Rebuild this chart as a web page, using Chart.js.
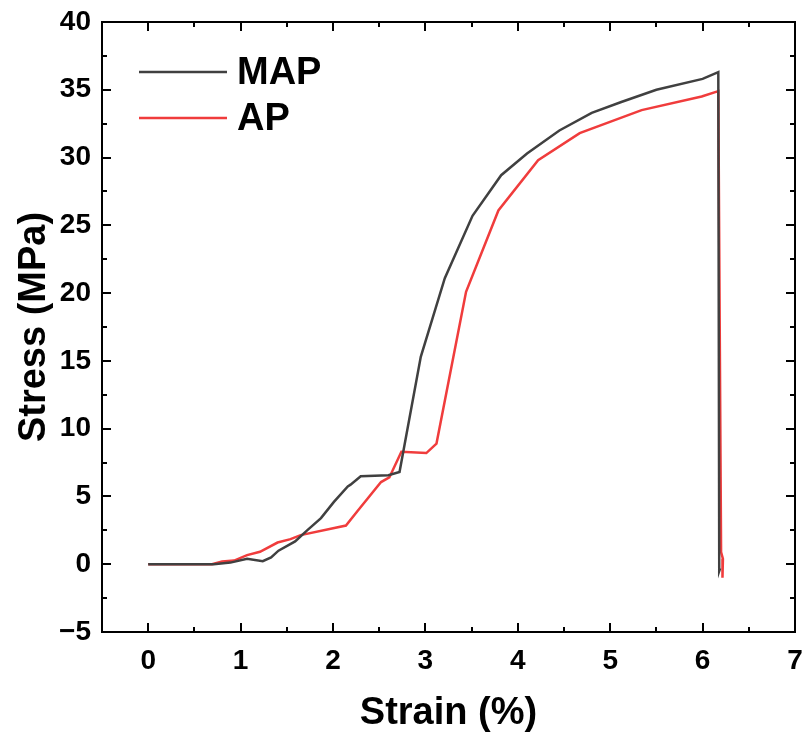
<!DOCTYPE html>
<html>
<head>
<meta charset="utf-8">
<script src="https://cdn.jsdelivr.net/npm/chart.js@4/dist/chart.umd.min.js"></script>
<style>
  html, body { margin: 0; padding: 0; background: #fff; }
  #wrap { width: 806px; height: 738px; }
</style>
</head>
<body>
<div id="wrap"><canvas id="chart" width="806" height="738"></canvas></div>
<script>
// data
var mapStrain = [0, 0.71, 0.89, 1.07, 1.24, 1.33, 1.41, 1.59, 1.72, 1.87, 2.01, 2.16, 2.19, 2.30, 2.60, 2.72, 2.95, 3.21, 3.51, 3.82, 4.10, 4.45, 4.80, 5.12, 5.50, 6.00, 6.17, 6.18, 6.19];
var mapStress = [0, 0, 0.12, 0.40, 0.22, 0.50, 1.00, 1.68, 2.50, 3.40, 4.60, 5.74, 5.87, 6.49, 6.56, 6.80, 15.3, 21.1, 25.7, 28.7, 30.3, 32.0, 33.3, 34.1, 35.0, 35.8, 36.3, -0.5, -0.3];

var apStrain = [0, 0.69, 0.80, 0.93, 1.07, 1.21, 1.40, 1.54, 1.65, 2.14, 2.27, 2.52, 2.61, 2.74, 3.01, 3.12, 3.44, 3.79, 4.22, 4.67, 5.34, 5.99, 6.17, 6.20, 6.22, 6.22, 6.21];
var apStress = [0, 0, 0.20, 0.27, 0.67, 0.92, 1.60, 1.85, 2.15, 2.85, 3.96, 6.06, 6.40, 8.30, 8.20, 8.90, 20.1, 26.1, 29.8, 31.8, 33.5, 34.5, 34.9, 0.9, 0.4, -0.4, -1.0];

var xTicks = [0, 1, 2, 3, 4, 5, 6, 7];
var xMinorTicks = [-0.5, 0.5, 1.5, 2.5, 3.5, 4.5, 5.5, 6.5];
var yTicks = [-5, 0, 5, 10, 15, 20, 25, 30, 35, 40];
var yMinorTicks = [-2.5, 2.5, 7.5, 12.5, 17.5, 22.5, 27.5, 32.5, 37.5];

function toPoints(xs, ys) {
    return xs.map(function (x, i) { return { x: x, y: ys[i] }; });
}

var FONT = '"Liberation Sans", Arial, sans-serif';

// box frame, inward ticks on all four sides, and the legend inside the plot
var framePlugin = {
    id: 'frame',
    afterDraw: function (chart) {
        var ctx = chart.ctx;
        var a = chart.chartArea;
        var xs = chart.scales.x, ys = chart.scales.y;
        ctx.save();
        ctx.strokeStyle = '#000';
        ctx.lineWidth = 2;
        ctx.strokeRect(a.left, a.top, a.right - a.left, a.bottom - a.top);
        ctx.beginPath();
        function xt(list, len) {
            list.forEach(function (v) {
                var p = Math.round(xs.getPixelForValue(v));
                ctx.moveTo(p, a.bottom); ctx.lineTo(p, a.bottom - len);
                ctx.moveTo(p, a.top); ctx.lineTo(p, a.top + len);
            });
        }
        function yt(list, len) {
            list.forEach(function (v) {
                var p = Math.round(ys.getPixelForValue(v));
                ctx.moveTo(a.left, p); ctx.lineTo(a.left + len, p);
                ctx.moveTo(a.right, p); ctx.lineTo(a.right - len, p);
            });
        }
        xt(xTicks, 9); xt(xMinorTicks, 5);
        yt(yTicks, 9); yt(yMinorTicks, 5);
        ctx.stroke();

        // legend
        ctx.font = 'bold 38px ' + FONT;
        ctx.textBaseline = 'middle';
        chart.data.datasets.forEach(function (ds, i) {
            var y = a.top + 50 + i * 46;
            ctx.strokeStyle = ds.borderColor;
            ctx.lineWidth = 2.5;
            ctx.beginPath();
            ctx.moveTo(a.left + 37, y);
            ctx.lineTo(a.left + 125, y);
            ctx.stroke();
            ctx.fillStyle = '#000';
            ctx.fillText(ds.label, a.left + 135, y + 2);
        });
        ctx.restore();
    }
};

new Chart(document.getElementById('chart').getContext('2d'), {
    type: 'scatter',
    data: {
        datasets: [{
            label: 'MAP',
            data: toPoints(mapStrain, mapStress),
            showLine: true,
            borderColor: '#404040',
            borderWidth: 2.5,
            pointRadius: 0,
            tension: 0
        }, {
            label: 'AP',
            data: toPoints(apStrain, apStress),
            showLine: true,
            borderColor: '#f03c3c',
            borderWidth: 2.5,
            pointRadius: 0,
            tension: 0
        }]
    },
    options: {
        responsive: false,
        animation: false,
        layout: { padding: { top: 22, right: 11, left: 4, bottom: 0 } },
        plugins: {
            legend: { display: false },
            tooltip: { enabled: false }
        },
        scales: {
            x: {
                type: 'linear',
                min: -0.5,
                max: 7,
                afterBuildTicks: function (s) { s.ticks = xTicks.map(function (v) { return { value: v }; }); },
                afterFit: function (s) { s.height = 106; s.paddingLeft = 0; s.paddingRight = 0; },
                grid: { display: false, drawTicks: false },
                border: { display: false },
                ticks: {
                    color: '#000',
                    padding: 12,
                    font: { family: FONT, size: 28, weight: 'bold' }
                },
                title: {
                    display: true,
                    text: 'Strain (%)',
                    color: '#000',
                    padding: { top: 17, bottom: 2 },
                    font: { family: FONT, size: 38, weight: 'bold' }
                }
            },
            y: {
                type: 'linear',
                min: -5,
                max: 40,
                afterBuildTicks: function (s) { s.ticks = yTicks.map(function (v) { return { value: v }; }); },
                afterFit: function (s) { s.width = 98; s.paddingTop = 0; s.paddingBottom = 0; },
                grid: { display: false, drawTicks: false },
                border: { display: false },
                ticks: {
                    color: '#000',
                    padding: 11,
                    font: { family: FONT, size: 28, weight: 'bold' },
                    callback: function (v) { return v < 0 ? '\u2212' + Math.abs(v) : v; }
                },
                title: {
                    display: true,
                    text: 'Stress (MPa)',
                    color: '#000',
                    padding: { top: 8, bottom: 2 },
                    font: { family: FONT, size: 38, weight: 'bold' }
                }
            }
        }
    },
    plugins: [framePlugin]
});
</script>
</body>
</html>
